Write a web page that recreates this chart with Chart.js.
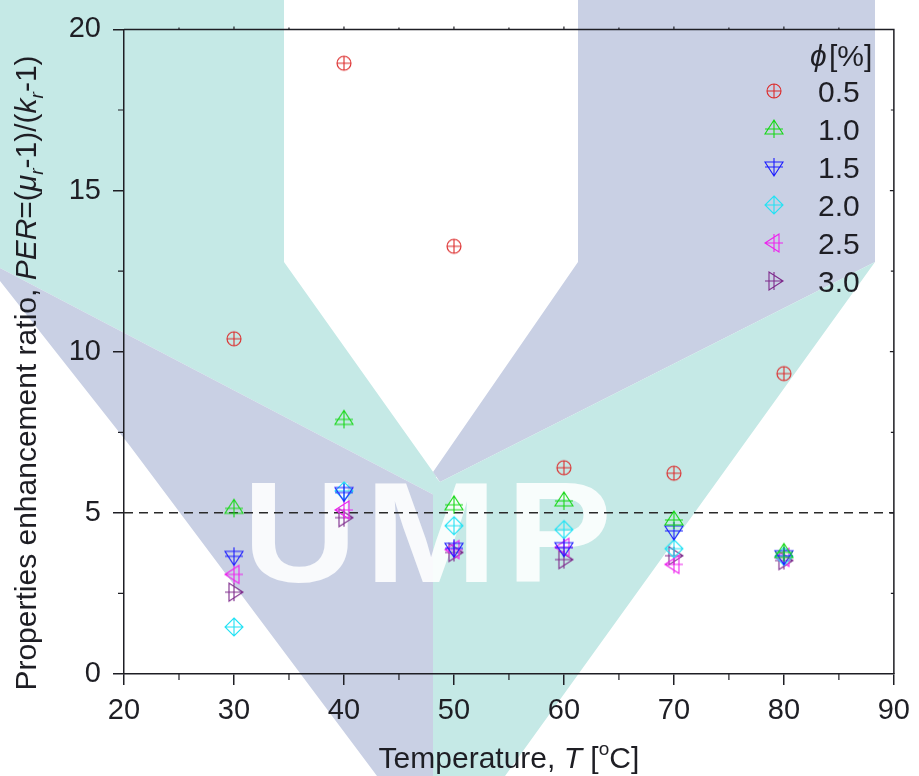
<!DOCTYPE html>
<html>
<head>
<meta charset="utf-8">
<script src="https://cdn.jsdelivr.net/npm/chart.js@4.4.1/dist/chart.umd.min.js"></script>
<style>
  html, body { margin: 0; padding: 0; background: #fff; }
  #wrap { width: 919px; height: 776px; }
</style>
</head>
<body>
<div id="wrap"><canvas id="perChart" width="919" height="776"></canvas></div>
<script>
// Data
const temperatures = [30, 40, 50, 60, 70, 80];
const phi05 = [10.4, 18.95, 13.27, 6.4, 6.23, 9.32];
const phi10 = [5.14, 7.9, 5.25, 5.37, 4.78, 3.77];
const phi15 = [3.65, 5.63, 3.9, 3.92, 4.44, 3.67];
const phi20 = [1.46, 5.68, 4.6, 4.48, 3.89, 3.65];
const phi25 = [3.09, 5.09, 3.86, 3.93, 3.4, 3.62];
const phi30 = [2.54, 4.85, 3.77, 3.55, 3.67, 3.52];
const seriesLabels = ['0.5', '1.0', '1.5', '2.0', '2.5', '3.0'];
const refLine = 5;
const xMin = 20, xMax = 90, xStep = 10;
const yMin = 0, yMax = 20, yStep = 5;
const xMinorTicks = [25, 35, 45, 55, 65, 75, 85];
const yMinorTicks = [2.5, 7.5, 12.5, 17.5];

const FONT = '"Liberation Sans", Arial, "DejaVu Sans", sans-serif';
const INK = '#1e1e24';
const seriesColors = ['#dc2a2a', '#16d816', '#1c1cff', '#22e2f4', '#ee22ee', '#7e2a8c'];
const seriesShapes = ['circle', 'up', 'down', 'diamond', 'left', 'right'];

// Origin-style "plus" markers built as small canvases
function makeMarker(shape, color) {
    const c = document.createElement('canvas');
    c.width = 26; c.height = 26;
    const g = c.getContext('2d');
    g.translate(13, 13);
    g.strokeStyle = color;
    g.lineWidth = 1.1;
    g.beginPath();
    if (shape === 'circle') {
        g.moveTo(7, 0); g.arc(0, 0, 7, 0, Math.PI * 2);
        g.moveTo(-7, 0); g.lineTo(7, 0); g.moveTo(0, -7); g.lineTo(0, 7);
    } else {
        if (shape === 'up') { g.moveTo(0, -9); g.lineTo(9, 5); g.lineTo(-9, 5); g.closePath(); }
        if (shape === 'down') { g.moveTo(0, 9); g.lineTo(9, -5); g.lineTo(-9, -5); g.closePath(); }
        if (shape === 'left') { g.moveTo(-9, 0); g.lineTo(5, -9); g.lineTo(5, 9); g.closePath(); }
        if (shape === 'right') { g.moveTo(9, 0); g.lineTo(-5, -9); g.lineTo(-5, 9); g.closePath(); }
        if (shape === 'diamond') { g.moveTo(0, -9); g.lineTo(9, 0); g.lineTo(0, 9); g.lineTo(-9, 0); g.closePath(); }
        g.moveTo(-9, 0); g.lineTo(9, 0); g.moveTo(0, -9); g.lineTo(0, 9);
    }
    g.stroke();
    return c;
}

const seriesValues = [phi05, phi10, phi15, phi20, phi25, phi30];
const markers = seriesShapes.map((s, i) => makeMarker(s, seriesColors[i]));

// rich text helper (italics, sub/superscripts)
function drawRich(ctx, parts, x, y, size) {
    const fontOf = p => `${p.i ? 'italic ' : ''}${(p.sub || p.sup) ? Math.round(size * 0.62) : size}px ${FONT}`;
    let total = 0;
    parts.forEach(p => { ctx.font = fontOf(p); p.w = ctx.measureText(p.t).width; total += p.w; });
    let cx = x - total / 2;
    ctx.textAlign = 'left';
    ctx.textBaseline = 'alphabetic';
    parts.forEach(p => {
        ctx.font = fontOf(p);
        const dy = p.sub ? size * 0.24 : p.sup ? -size * 0.42 : 0;
        ctx.fillText(p.t, cx, y + dy);
        cx += p.w;
    });
}

// UMP watermark behind everything
const watermark = {
    id: 'watermark',
    beforeDraw(chart) {
        const ctx = chart.ctx;
        const teal = '#c5e9e6', lav = '#c9d0e4';
        const poly = (pts, col) => {
            ctx.beginPath();
            pts.forEach((p, k) => k ? ctx.lineTo(p[0], p[1]) : ctx.moveTo(p[0], p[1]));
            ctx.closePath();
            ctx.fillStyle = col;
            ctx.fill();
        };
        ctx.save();
        poly([[0, 0], [284, 0], [284, 262], [436, 476], [436, 496], [0, 268]], teal);
        poly([[0, 268], [436, 496], [433, 776], [377, 776], [130, 446], [0, 281]], lav);
        poly([[578, 0], [875, 0], [875, 262], [440, 482], [433, 472], [578, 262]], lav);
        poly([[875, 262], [505, 776], [433, 776], [433, 474], [440, 482]], teal);
        // white letters
        ctx.fillStyle = 'rgba(255,255,255,0.88)';
        ctx.font = `bold 142px ${FONT}`;
        ctx.textAlign = 'center';
        ctx.textBaseline = 'alphabetic';
        [['U', 300], ['M', 431], ['P', 559]].forEach(([ch, cx]) => {
            ctx.save();
            ctx.translate(cx, 582);
            ctx.scale(1.12, 1);
            ctx.fillText(ch, 0, 0);
            ctx.restore();
        });
        ctx.restore();
    }
};

// frame, minor ticks, axis titles and legend
const decorations = {
    id: 'decorations',
    afterDraw(chart) {
        const ctx = chart.ctx;
        const a = chart.chartArea;
        const xs = chart.scales.x, ys = chart.scales.y;
        ctx.save();
        ctx.strokeStyle = INK;
        ctx.lineWidth = 1.5;
        ctx.beginPath();
        ctx.moveTo(a.left, a.top); ctx.lineTo(a.right, a.top); ctx.lineTo(a.right, a.bottom);
        ctx.stroke();

        ctx.lineWidth = 1.2;
        ctx.beginPath();
        xMinorTicks.forEach(v => {
            const px = xs.getPixelForValue(v);
            ctx.moveTo(px, a.bottom); ctx.lineTo(px, a.bottom + 6);
            ctx.moveTo(px, a.top); ctx.lineTo(px, a.top - 2);
        });
        for (let v = xMin + xStep; v < xMax; v += xStep) {
            const px = xs.getPixelForValue(v);
            ctx.moveTo(px, a.top); ctx.lineTo(px, a.top - 3);
        }
        yMinorTicks.forEach(v => {
            const py = ys.getPixelForValue(v);
            ctx.moveTo(a.left - 6, py); ctx.lineTo(a.left, py);
            ctx.moveTo(a.right, py); ctx.lineTo(a.right - 3, py);
        });
        for (let v = yMin + yStep; v < yMax; v += yStep) {
            const py = ys.getPixelForValue(v);
            ctx.moveTo(a.right, py); ctx.lineTo(a.right - 4, py);
        }
        ctx.stroke();

        // axis titles
        ctx.fillStyle = INK;
        drawRich(ctx, [
            { t: 'Temperature, ' }, { t: 'T', i: true }, { t: ' [' }, { t: 'o', sup: true }, { t: 'C]' }
        ], (a.left + a.right) / 2, 768, 30);

        ctx.save();
        ctx.translate(36, 373);
        ctx.rotate(-Math.PI / 2);
        drawRich(ctx, [
            { t: 'Properties enhancement ratio, ' }, { t: 'PER', i: true }, { t: '=(' },
            { t: 'μ', i: true }, { t: 'r', i: true, sub: true }, { t: '-1)/(' },
            { t: 'k', i: true }, { t: 'r', i: true, sub: true }, { t: '-1)' }
        ], 0, 0, 30);
        ctx.restore();

        // legend
        ctx.textAlign = 'left';
        ctx.textBaseline = 'alphabetic';
        ctx.font = `italic 30px ${FONT}`;
        ctx.fillText('ϕ', 810, 66);
        ctx.font = `30px ${FONT}`;
        ctx.fillText('[%]', 829, 66);
        chart.data.datasets.forEach((ds, i) => {
            if (!ds.inLegend) return;
            const cy = 91 + i * 38;
            ctx.drawImage(ds.pointStyle, 774 - 13, cy - 13);
            ctx.fillText(ds.label, 818, cy + 10.5);
        });
        ctx.restore();
    }
};

const datasets = seriesValues.map((vals, i) => ({
    label: seriesLabels[i],
    data: temperatures.map((t, j) => ({ x: t, y: vals[j] })),
    pointStyle: markers[i],
    pointRadius: 9,
    showLine: false,
    inLegend: true,
    order: 1
}));
datasets.push({
    type: 'line',
    label: 'reference',
    data: [{ x: xMin, y: refLine }, { x: xMax, y: refLine }],
    borderColor: '#2a2a2a',
    borderWidth: 1.5,
    borderDash: [9, 6],
    pointRadius: 0,
    inLegend: false,
    order: 10
});

new Chart(document.getElementById('perChart'), {
    type: 'scatter',
    data: { datasets },
    options: {
        responsive: false,
        animation: false,
        devicePixelRatio: 1,
        layout: { padding: { top: 26, right: 21, left: 0, bottom: 0 } },
        plugins: { legend: { display: false }, tooltip: { enabled: false } },
        scales: {
            x: {
                type: 'linear', min: xMin, max: xMax,
                afterFit: s => { s.height = 102; },
                ticks: { stepSize: xStep, color: INK, padding: 9, font: { size: 29, family: FONT } },
                grid: { drawOnChartArea: false, tickLength: 11, color: INK, lineWidth: 1.5 },
                border: { color: INK, width: 1.5 }
            },
            y: {
                type: 'linear', min: yMin, max: yMax,
                afterFit: s => { s.width = 124; },
                ticks: { stepSize: yStep, color: INK, padding: 12, font: { size: 29, family: FONT } },
                grid: { drawOnChartArea: false, tickLength: 11, color: INK, lineWidth: 1.5 },
                border: { color: INK, width: 1.5 }
            }
        }
    },
    plugins: [watermark, decorations]
});
</script>
</body>
</html>
